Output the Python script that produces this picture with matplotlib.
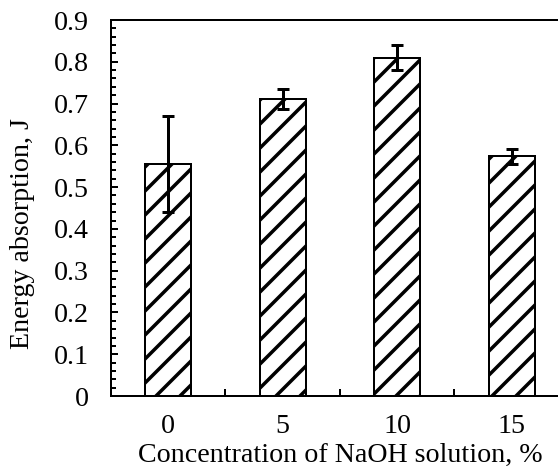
import matplotlib
matplotlib.use("Agg")
import matplotlib.pyplot as plt
import numpy as np

categories = ["0", "5", "10", "15"]
energy = [0.555, 0.710, 0.810, 0.574]
errors = [0.115, 0.024, 0.029, 0.018]

plt.rcParams['font.family'] = ['Liberation Serif', 'DejaVu Serif']
plt.rcParams['hatch.linewidth'] = 3.5

DPI = 72
FS = 28
fig = plt.figure(figsize=(558 / DPI, 471 / DPI), dpi=DPI)
ax = fig.add_axes([111 / 558, 75 / 471, 457.9 / 558, 376 / 471])

x = np.arange(len(categories))
ax.bar(x, energy, width=0.4, color='white', edgecolor='black', linewidth=2,
       hatch='/', zorder=2)
ax.errorbar(x, energy, yerr=errors, fmt='none', ecolor='black',
            elinewidth=3, capsize=6, capthick=3, zorder=3)

ax.set_xlim(-0.5, len(categories) - 0.5)
ax.set_ylim(0, 0.9)
ax.set_yticks(np.arange(0, 0.91, 0.1))
ax.set_yticklabels(["0"] + [f"{v:.1f}" for v in np.arange(0.1, 0.91, 0.1)])
ax.set_yticks(np.arange(0, 0.9001, 0.02), minor=True)

ax.set_xticks(x)
ax.set_xticklabels(categories)
ax.set_xticks(np.arange(-0.5, len(categories)), minor=True)

ax.tick_params(axis='x', which='major', length=0, pad=18, labelsize=FS)
ax.tick_params(axis='x', which='minor', direction='in', length=7, width=2)
ax.tick_params(axis='y', which='major', direction='in', length=7, width=2,
               pad=22, labelsize=FS)
ax.tick_params(axis='y', which='minor', direction='in', length=5, width=2)

for s in ax.spines.values():
    s.set_linewidth(2)

ax.set_xlabel("Concentration of NaOH solution, %", fontsize=FS, labelpad=4)
ax.set_ylabel("Energy absorption, J", fontsize=FS)
ax.yaxis.set_label_coords(-0.167, 0.431)

fig.savefig("out.png", dpi=DPI)
